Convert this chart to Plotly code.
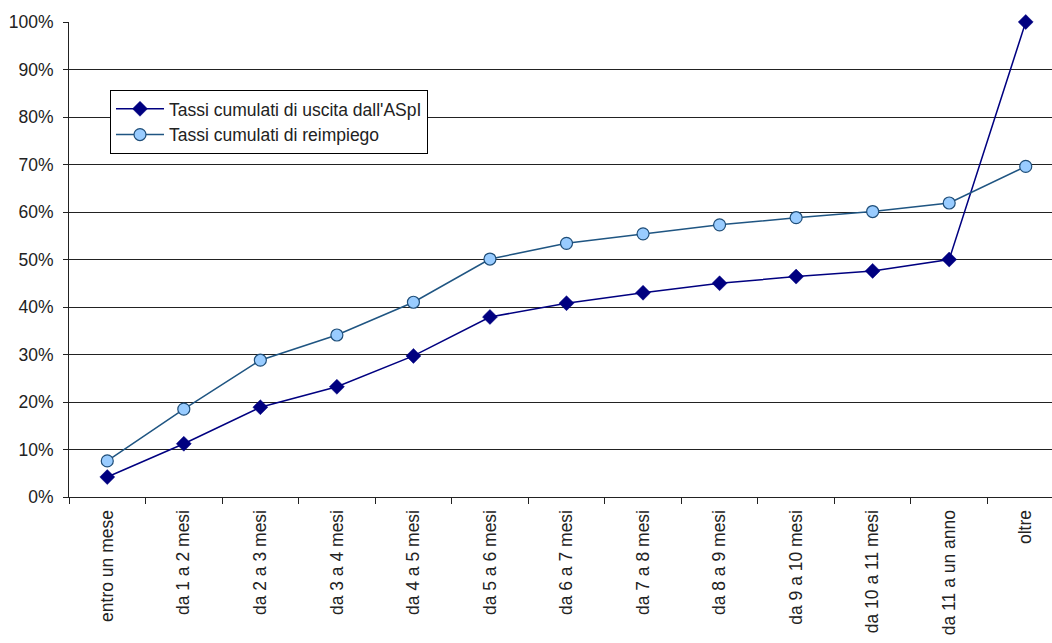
import plotly.graph_objects as go

categories = ["entro un mese", "da 1 a 2 mesi", "da 2 a 3 mesi", "da 3 a 4 mesi",
              "da 4 a 5 mesi", "da 5 a 6 mesi", "da 6 a 7 mesi", "da 7 a 8 mesi",
              "da 8 a 9 mesi", "da 9 a 10 mesi", "da 10 a 11 mesi",
              "da 11 a un anno", "oltre"]
uscita = [0.042, 0.112, 0.189, 0.232, 0.297, 0.379, 0.408, 0.430,
          0.450, 0.464, 0.476, 0.500, 1.000]
reimpiego = [0.076, 0.185, 0.288, 0.341, 0.410, 0.501, 0.534, 0.554,
             0.573, 0.588, 0.601, 0.619, 0.696]
series_names = ["Tassi cumulati di uscita dall'ASpI", "Tassi cumulati di reimpiego"]

FONT = "Liberation Sans, Arial, sans-serif"
FS = 17.5

fig = go.Figure()
fig.add_trace(go.Scatter(
    x=categories, y=uscita, name=series_names[0], mode="lines+markers",
    line=dict(color="#000080", width=1.5),
    marker=dict(symbol="diamond", size=11.5, color="#000080",
                line=dict(color="#000080", width=0.5)),
    cliponaxis=False))
fig.add_trace(go.Scatter(
    x=categories, y=reimpiego, name=series_names[1], mode="lines+markers",
    line=dict(color="#1F5582", width=1.5),
    marker=dict(symbol="circle", size=12, color="#99CCFF",
                line=dict(color="#1F4E79", width=1.2)),
    cliponaxis=False))

fig.update_layout(
    width=1064, height=643,
    margin=dict(l=69, r=0, t=22, b=146),
    paper_bgcolor="white", plot_bgcolor="white",
    font=dict(family=FONT, size=FS, color="#222"),
    showlegend=True,
    legend=dict(x=0.0412, y=0.857, xanchor="left", yanchor="top",
                bgcolor="white", bordercolor="#000", borderwidth=1,
                font=dict(family=FONT, size=FS, color="#222"),
                itemwidth=48, tracegroupgap=0),
    xaxis=dict(type="category", tickangle=-90, tickson="boundaries",
               range=[-0.5, len(categories) - 0.5],
               automargin=False, ticklabelstandoff=5,
               showline=True, linecolor="#222", linewidth=1,
               ticks="outside", ticklen=6, tickcolor="#222",
               showgrid=False, zeroline=False,
               tickfont=dict(family=FONT, size=FS, color="#222")),
    yaxis=dict(range=[0, 1], dtick=0.1, tickformat=".0%",
               automargin=False, ticklabelstandoff=6,
               showline=True, linecolor="#222", linewidth=1,
               ticks="outside", ticklen=5, tickcolor="#222",
               showgrid=True, gridcolor="#222", gridwidth=1,
               zeroline=False,
               tickfont=dict(family=FONT, size=FS, color="#222")),
)

fig.write_html(
    "out.html",
    config={"displayModeBar": False},
    post_script="document.body.style.margin='0';document.body.style.overflow='hidden';",
)
